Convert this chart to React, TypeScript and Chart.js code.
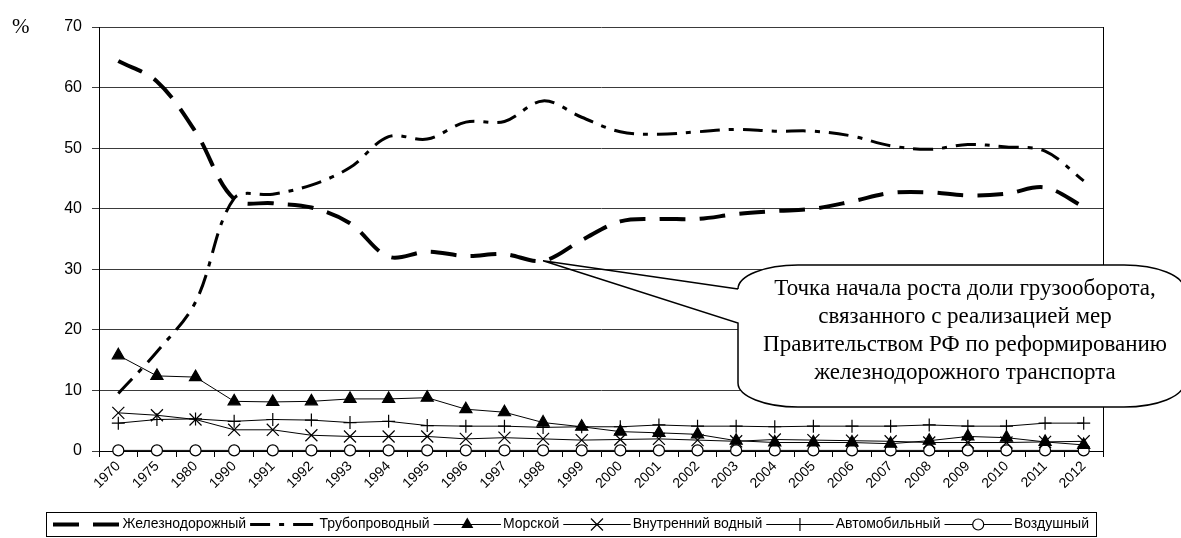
import React, { useEffect, useRef } from 'react';
import { Chart, registerables } from 'chart.js';

Chart.register(...registerables);

const categories = [
  '1970', '1975', '1980', '1990', '1991', '1992', '1993', '1994', '1995', '1996',
  '1997', '1998', '1999', '2000', '2001', '2002', '2003', '2004', '2005', '2006',
  '2007', '2008', '2009', '2010', '2011', '2012',
];

const railway = [64.4, 61.0, 52.7, 41.6, 40.9, 40.2, 37.6, 32.1, 32.9, 32.2, 32.5, 31.4, 34.8, 37.9, 38.3, 38.3, 39.1, 39.6, 40.0, 41.2, 42.6, 42.7, 42.2, 42.5, 43.5, 40.3];
const pipeline = [9.5, 16.4, 24.6, 41.7, 42.4, 43.9, 46.8, 51.9, 51.5, 54.3, 54.4, 57.8, 55.1, 52.7, 52.3, 52.7, 53.1, 52.8, 52.8, 52.0, 50.4, 49.8, 50.6, 50.2, 49.5, 44.6];
const sea = [15.8, 12.4, 12.2, 8.2, 8.1, 8.2, 8.6, 8.6, 8.8, 6.9, 6.4, 4.7, 4.0, 3.2, 3.0, 2.75, 1.7, 1.4, 1.4, 1.4, 1.2, 1.7, 2.4, 2.2, 1.5, 1.0];
const inlandWater = [6.3, 5.9, 5.2, 3.5, 3.5, 2.6, 2.4, 2.4, 2.4, 2.0, 2.2, 2.0, 1.8, 1.9, 2.0, 1.8, 1.6, 1.9, 1.8, 1.7, 1.6, 1.4, 1.4, 1.4, 1.5, 1.6];
const automobile = [4.6, 5.2, 5.3, 4.9, 5.2, 5.1, 4.7, 4.9, 4.2, 4.1, 4.1, 3.9, 4.0, 4.0, 4.3, 4.1, 4.1, 4.0, 4.1, 4.1, 4.1, 4.3, 4.1, 4.1, 4.6, 4.6];
const air = [0.1, 0.1, 0.1, 0.1, 0.1, 0.1, 0.1, 0.1, 0.1, 0.1, 0.1, 0.1, 0.1, 0.1, 0.1, 0.1, 0.1, 0.1, 0.1, 0.1, 0.1, 0.1, 0.1, 0.1, 0.1, 0.1];

const seriesNames = ['Железнодорожный', 'Трубопроводный', 'Морской', 'Внутренний водный', 'Автомобильный', 'Воздушный'];

const calloutLines = [
  'Точка начала роста доли грузооборота,',
  'связанного с реализацией мер',
  'Правительством РФ по реформированию',
  'железнодорожного транспорта',
];
const calloutIndex = 11; // 1998 on the railway series

const yTicks = [0, 10, 20, 30, 40, 50, 60, 70];
const unitLabel = '%';

const SANS = '"Liberation Sans", Arial, sans-serif';
const SERIF = '"Liberation Serif", "Times New Roman", serif';

type Style = { dash: number[]; width: number; marker: string | null; r: number; fill: string };

const styles: Style[] = [
  { dash: [26, 14], width: 4, marker: null, r: 0, fill: '#000' },
  { dash: [20, 9, 5, 9], width: 3, marker: null, r: 0, fill: '#000' },
  { dash: [], width: 1, marker: 'triangle', r: 7, fill: '#000' },
  { dash: [], width: 1, marker: 'crossRot', r: 8.5, fill: '#000' },
  { dash: [], width: 1, marker: 'cross', r: 6.5, fill: '#000' },
  { dash: [], width: 1, marker: 'circle', r: 5.5, fill: '#fff' },
];

function drawMarker(ctx: CanvasRenderingContext2D, marker: string, x: number, y: number, r: number) {
  ctx.save();
  ctx.setLineDash([]);
  ctx.strokeStyle = '#000';
  ctx.lineWidth = 1.2;
  ctx.beginPath();
  if (marker === 'triangle') {
    for (let i = 0; i < 3; i++) {
      const a = -Math.PI / 2 + (i * 2 * Math.PI) / 3;
      const px = x + Math.cos(a) * r;
      const py = y + Math.sin(a) * r;
      if (i === 0) ctx.moveTo(px, py); else ctx.lineTo(px, py);
    }
    ctx.closePath();
    ctx.fillStyle = '#000';
    ctx.fill();
  } else if (marker === 'crossRot') {
    const d = r * Math.SQRT1_2;
    ctx.moveTo(x - d, y - d); ctx.lineTo(x + d, y + d);
    ctx.moveTo(x + d, y - d); ctx.lineTo(x - d, y + d);
    ctx.stroke();
  } else if (marker === 'cross') {
    ctx.moveTo(x - r, y); ctx.lineTo(x + r, y);
    ctx.moveTo(x, y - r); ctx.lineTo(x, y + r);
    ctx.stroke();
  } else if (marker === 'circle') {
    ctx.arc(x, y, r, 0, Math.PI * 2);
    ctx.fillStyle = '#fff';
    ctx.fill();
    ctx.stroke();
  }
  ctx.restore();
}

export default function App() {
  const ref = useRef<HTMLCanvasElement>(null);

  useEffect(() => {
    const canvas = ref.current;
    if (!canvas) return;

    const overlay = {
      id: 'overlay',
      afterDraw(chart: any) {
        const ctx: CanvasRenderingContext2D = chart.ctx;
        const area = chart.chartArea;
        const xs = chart.scales.x;
        const ys = chart.scales.y;
        ctx.save();

        // right border of plot area
        ctx.strokeStyle = '#000';
        ctx.lineWidth = 1;
        ctx.setLineDash([]);
        ctx.beginPath();
        ctx.moveTo(Math.round(area.right) + 0.5, area.top);
        ctx.lineTo(Math.round(area.right) + 0.5, area.bottom);
        ctx.stroke();

        // unit label
        ctx.fillStyle = '#000';
        ctx.font = `21px ${SERIF}`;
        ctx.textAlign = 'left';
        ctx.textBaseline = 'alphabetic';
        ctx.fillText(unitLabel, 12, 33);

        // callout
        const ax = xs.getPixelForValue(calloutIndex);
        const ay = ys.getPixelForValue(railway[calloutIndex]);
        const L = 738, T = 265, R = 1184, B = 407, rx = 60, ry = 24;
        const k = 0.5523;
        ctx.beginPath();
        ctx.moveTo(L, T + ry);
        ctx.lineTo(L, B - ry);
        ctx.bezierCurveTo(L, B - ry + k * ry, L + rx - k * rx, B, L + rx, B);
        ctx.lineTo(R - rx, B);
        ctx.bezierCurveTo(R - rx + k * rx, B, R, B - ry + k * ry, R, B - ry);
        ctx.lineTo(R, T + ry);
        ctx.bezierCurveTo(R, T + ry - k * ry, R - rx + k * rx, T, R - rx, T);
        ctx.lineTo(L + rx, T);
        ctx.bezierCurveTo(L + rx - k * rx, T, L, T + ry - k * ry, L, T + ry);
        ctx.closePath();
        ctx.fillStyle = '#fff';
        ctx.fill();

        ctx.beginPath();
        ctx.moveTo(L, T + ry);
        ctx.lineTo(ax, ay);
        ctx.lineTo(L, 323);
        ctx.lineTo(L, B - ry);
        ctx.bezierCurveTo(L, B - ry + k * ry, L + rx - k * rx, B, L + rx, B);
        ctx.lineTo(R - rx, B);
        ctx.bezierCurveTo(R - rx + k * rx, B, R, B - ry + k * ry, R, B - ry);
        ctx.lineTo(R, T + ry);
        ctx.bezierCurveTo(R, T + ry - k * ry, R - rx + k * rx, T, R - rx, T);
        ctx.lineTo(L + rx, T);
        ctx.bezierCurveTo(L + rx - k * rx, T, L, T + ry - k * ry, L, T + ry);
        ctx.strokeStyle = '#000';
        ctx.lineWidth = 1.5;
        ctx.stroke();

        ctx.fillStyle = '#000';
        ctx.font = `23px ${SERIF}`;
        ctx.textAlign = 'center';
        ctx.textBaseline = 'middle';
        calloutLines.forEach((line, i) => {
          ctx.fillText(line, 965, 289 + i * 28);
        });

        // legend
        const bx0 = 46, bx1 = 1096, by0 = 512, by1 = 536;
        ctx.lineWidth = 1;
        ctx.strokeStyle = '#000';
        ctx.strokeRect(bx0 + 0.5, by0 + 0.5, bx1 - bx0, by1 - by0);
        ctx.font = `14px ${SANS}`;
        ctx.textAlign = 'left';
        ctx.textBaseline = 'middle';
        const widths = seriesNames.map((n) => ctx.measureText(n).width);
        const gapText = 2, gapNext = 4, pad = 7;
        const total = widths.reduce((a, b) => a + b, 0);
        const S = (bx1 - bx0 - 2 * pad - total - 6 * gapText - 5 * gapNext) / 6;
        let x = bx0 + pad;
        const ly = (by0 + by1) / 2 + 0.5;
        seriesNames.forEach((name, i) => {
          const st = styles[i];
          ctx.save();
          ctx.strokeStyle = '#000';
          ctx.lineWidth = st.width;
          ctx.lineCap = 'butt';
          ctx.setLineDash(st.dash);
          ctx.beginPath();
          ctx.moveTo(x, ly);
          ctx.lineTo(x + S, ly);
          ctx.stroke();
          ctx.restore();
          if (st.marker) drawMarker(ctx, st.marker, x + S / 2, ly, st.r);
          ctx.fillStyle = '#000';
          ctx.fillText(name, x + S + gapText, ly);
          x += S + gapText + widths[i] + gapNext;
        });

        ctx.restore();
      },
    };

    const values = [railway, pipeline, sea, inlandWater, automobile, air];
    const datasets = values.map((data, i) => {
      const st = styles[i];
      return {
        label: seriesNames[i],
        data,
        borderColor: '#000',
        backgroundColor: st.fill,
        borderWidth: st.width,
        borderDash: st.dash,
        borderCapStyle: 'butt' as const,
        tension: i < 2 ? 0.35 : 0,
        fill: false,
        clip: false as const,
        pointStyle: (st.marker || 'circle') as any,
        pointRadius: st.marker ? st.r : 0,
        pointHoverRadius: st.marker ? st.r : 0,
        pointBackgroundColor: st.fill,
        pointBorderColor: '#000',
        pointBorderWidth: 1.2,
        order: i === 5 ? 10 : 6 - i,
      };
    });

    const chart = new Chart(canvas, {
      type: 'line',
      data: { labels: categories, datasets },
      options: {
        responsive: false,
        animation: false,
        events: [],
        devicePixelRatio: 1,
        layout: { padding: { top: 27, right: 78, bottom: 27, left: 0 } },
        plugins: {
          legend: { display: false },
          tooltip: { enabled: false },
          title: { display: false },
        },
        scales: {
          x: {
            type: 'category',
            offset: true,
            grid: {
              offset: true,
              drawOnChartArea: false,
              drawTicks: true,
              tickLength: 6,
              color: '#000',
            },
            border: { display: true, color: '#000', width: 1 },
            ticks: {
              autoSkip: false,
              maxRotation: 45,
              minRotation: 45,
              padding: 1,
              color: '#000',
              font: { family: SANS, size: 14 },
            },
            afterFit: (s: any) => { s.height = 60; },
          },
          y: {
            type: 'linear',
            min: 0,
            max: 70,
            afterBuildTicks: (s: any) => { s.ticks = yTicks.map((v) => ({ value: v })); },
            grid: {
              color: '#3a3a3a',
              lineWidth: 1,
              drawTicks: true,
              tickLength: 7,
            },
            border: { display: true, color: '#000', width: 1 },
            ticks: {
              padding: 10,
              color: '#000',
              font: { family: SANS, size: 16 },
            },
            afterFit: (s: any) => { s.width = 99; },
          },
        },
      },
      plugins: [overlay],
    });

    return () => chart.destroy();
  }, []);

  return (
    <div style={{ position: 'fixed', left: 0, top: 0, width: 1181, height: 538, background: '#fff' }}>
      <canvas ref={ref} width={1181} height={538} style={{ display: 'block', width: 1181, height: 538 }} />
    </div>
  );
}
